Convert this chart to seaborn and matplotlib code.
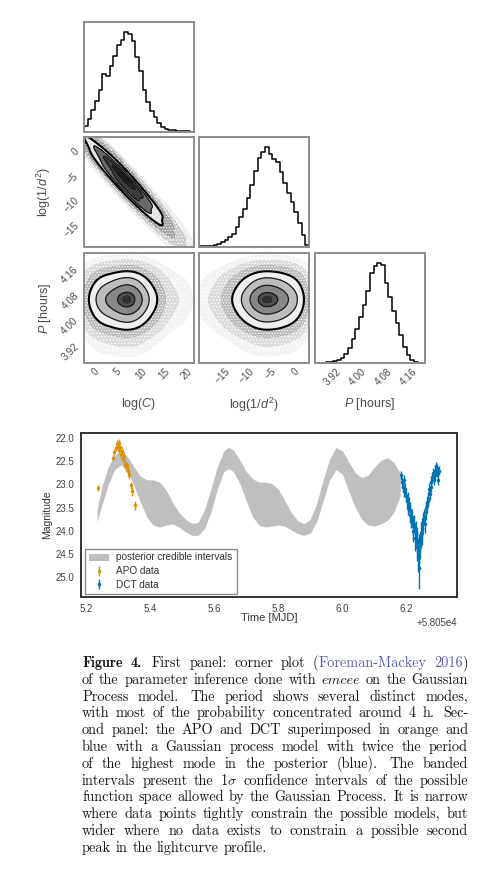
import numpy as np
import pandas as pd
import matplotlib
matplotlib.use("Agg")
import matplotlib.pyplot as plt
from matplotlib.transforms import IdentityTransform
import seaborn as sns

sns.set_style("white")
plt.rcParams["font.family"] = ["Liberation Sans", "DejaVu Sans"]
plt.rcParams["mathtext.fontset"] = "custom"
plt.rcParams["mathtext.rm"] = "Liberation Sans"
plt.rcParams["mathtext.it"] = "Liberation Sans:italic"
plt.rcParams["hatch.color"] = "#6e6e6e"
plt.rcParams["hatch.linewidth"] = 0.6

# ---------------------------------------------------------------- data
# corner plot: parameter ranges, ticks, labels
logc_range = [-2.4, 21.6]
logd_range = [-19.7, 2.8]
per_range = [3.865, 4.21]
logc_ticks = [0, 5, 10, 15, 20]
logd_ticks = [-15, -10, -5, 0]
per_ticks = [3.92, 4.00, 4.08, 4.16]
logc_label = r"log($C$)"
logd_label = r"log(1/$d^2$)"
per_label = r"$P$ [hours]"

# 1-D marginal histograms (relative heights, equal bins over the range)
hist_logc = [0.06, 0.13, 0.22, 0.31, 0.42, 0.57, 0.55, 0.65, 0.75, 0.86,
             0.91, 0.99, 0.97, 0.90, 0.74, 0.60, 0.42, 0.30, 0.21, 0.15,
             0.09, 0.05, 0.03, 0.02, 0.015, 0.012, 0.01, 0.007, 0.005, 0.002]
hist_logd = [0.007, 0.008, 0.012, 0.015, 0.02, 0.032, 0.05, 0.072, 0.10, 0.13,
             0.20, 0.30, 0.38, 0.49, 0.62, 0.76, 0.89, 0.95, 1.00, 0.93,
             0.88, 0.85, 0.75, 0.64, 0.54, 0.45, 0.35, 0.24, 0.12, 0.02]
hist_per = [0.0, 0.002, 0.004, 0.007, 0.012, 0.018, 0.026, 0.05, 0.09, 0.15,
            0.24, 0.34, 0.46, 0.58, 0.72, 0.90, 0.97, 1.00, 0.98, 0.80,
            0.66, 0.52, 0.40, 0.28, 0.16, 0.08, 0.035, 0.012, 0.005, 0.002]

# 2-D density log(C) vs log(1/d^2): rows from top (high log(1/d^2)) to bottom,
# columns from low to high log(C)
dens_c_d = [
    [10, 4, 0, 0, 0, 0, 0, 0, 0, 0, 0, 0],
    [4, 28, 6, 0, 0, 0, 0, 0, 0, 0, 0, 0],
    [0.1, 13, 49, 7, 0, 0, 0, 0, 0, 0, 0, 0],
    [0, 0.4, 27, 67, 7, 0, 0, 0, 0, 0, 0, 0],
    [0, 0, 1, 42, 81, 5, 0, 0, 0, 0, 0, 0],
    [0, 0, 0, 1.6, 57, 69, 2.2, 0, 0, 0, 0, 0],
    [0, 0, 0, 0, 2.4, 55, 33, 0.8, 0.1, 0, 0, 0],
    [0, 0, 0, 0, 0, 2.7, 31, 14, 1.5, 0, 0, 0],
    [0, 0, 0, 0, 0, 0, 1.7, 15, 5.7, 0.6, 0, 0],
    [0, 0, 0, 0, 0, 0, 0, 1.0, 6.2, 2.4, 0.3, 0],
    [0, 0, 0, 0, 0, 0, 0, 0, 2.0, 2.7, 1.1, 0.1],
    [0, 0, 0, 0, 0, 0, 0, 0, 0.2, 0.9, 1.4, 0.5],
]

# light curve (times in MJD - 58050)
mjd_base = 58050.0
band_t = [5.235, 5.25, 5.27, 5.29, 5.31, 5.33, 5.35, 5.37, 5.39, 5.41, 5.43,
          5.45, 5.47, 5.49, 5.51, 5.53, 5.55, 5.57, 5.59, 5.61, 5.63, 5.645,
          5.66, 5.68, 5.70, 5.72, 5.74, 5.76, 5.78, 5.80, 5.82, 5.84, 5.86,
          5.88, 5.90, 5.92, 5.94, 5.96, 5.98, 6.00, 6.02, 6.04, 6.06, 6.08,
          6.10, 6.12, 6.14, 6.16, 6.18]
band_bright = [23.55, 23.05, 22.62, 22.36, 22.28, 22.40, 22.62, 22.82, 22.90,
               22.90, 22.95, 23.12, 23.38, 23.60, 23.75, 23.84, 23.82, 23.55,
               23.10, 22.62, 22.28, 22.20, 22.26, 22.48, 22.72, 22.88, 22.95,
               22.95, 22.98, 23.10, 23.35, 23.60, 23.78, 23.85, 23.75, 23.40,
               22.90, 22.45, 22.20, 22.28, 22.52, 22.75, 22.85, 22.80, 22.62,
               22.48, 22.42, 22.52, 22.75]
band_faint = [23.80, 23.45, 23.00, 22.68, 22.58, 22.72, 23.02, 23.38, 23.70,
              23.88, 23.92, 23.88, 23.85, 23.92, 24.02, 24.10, 24.10, 23.95,
              23.60, 23.10, 22.72, 22.66, 22.72, 22.98, 23.35, 23.70, 23.88,
              23.92, 23.90, 23.88, 23.90, 23.98, 24.06, 24.10, 24.05, 23.80,
              23.35, 22.90, 22.68, 22.78, 23.15, 23.50, 23.75, 23.88, 23.90,
              23.85, 23.78, 23.60, 23.25]

apo_t = [5.239, 5.285, 5.289, 5.293, 5.296, 5.299, 5.302, 5.305, 5.308, 5.311,
         5.314, 5.317, 5.320, 5.323, 5.326, 5.329, 5.332, 5.336, 5.340, 5.344,
         5.352]
apo_mag = [23.08, 22.42, 22.30, 22.22, 22.12, 22.18, 22.10, 22.25, 22.20, 22.35,
           22.28, 22.45, 22.38, 22.55, 22.62, 22.58, 22.70, 22.80, 23.02, 23.15,
           23.45]
apo_err = [0.07, 0.06, 0.07, 0.06, 0.08, 0.06, 0.07, 0.07, 0.06, 0.07,
           0.08, 0.07, 0.07, 0.08, 0.08, 0.07, 0.08, 0.08, 0.08, 0.09, 0.10]

dct_t = [6.184, 6.186, 6.189, 6.191, 6.193, 6.196, 6.198, 6.200, 6.203, 6.205,
         6.207, 6.210, 6.212, 6.214, 6.217, 6.219, 6.221, 6.224, 6.226, 6.228,
         6.231, 6.233, 6.235, 6.238, 6.240, 6.242, 6.245, 6.247, 6.249, 6.252,
         6.254, 6.256, 6.259, 6.261, 6.263, 6.266, 6.268, 6.270, 6.273, 6.275,
         6.277, 6.280, 6.282, 6.284, 6.287, 6.289, 6.291, 6.294, 6.296, 6.298,
         6.301]
dct_mag = [22.80, 22.95, 23.05, 22.90, 23.15, 23.10, 23.25, 23.35, 23.30, 23.50,
           23.45, 23.65, 23.55, 23.75, 23.70, 23.90, 24.00, 23.85, 24.15, 24.05,
           24.35, 24.20, 24.55, 24.40, 24.80, 24.30, 24.10, 23.95, 24.05, 23.80,
           23.70, 23.85, 23.60, 23.50, 23.45, 23.30, 23.35, 23.10, 23.20, 22.95,
           23.05, 22.85, 22.75, 22.90, 22.70, 22.80, 22.60, 22.75, 22.65, 22.90,
           22.70]
dct_err = [0.10, 0.12, 0.12, 0.10, 0.13, 0.12, 0.14, 0.15, 0.14, 0.16,
           0.15, 0.18, 0.16, 0.20, 0.18, 0.22, 0.24, 0.20, 0.28, 0.25,
           0.30, 0.28, 0.35, 0.32, 0.45, 0.30, 0.28, 0.22, 0.25, 0.20,
           0.18, 0.20, 0.16, 0.15, 0.15, 0.13, 0.14, 0.12, 0.13, 0.11,
           0.12, 0.10, 0.10, 0.11, 0.10, 0.10, 0.09, 0.10, 0.10, 0.12, 0.10]
lc_xticks = [5.2, 5.4, 5.6, 5.8, 6.0, 6.2]
lc_yticks = [22.0, 22.5, 23.0, 23.5, 24.0, 24.5, 25.0]
legend_labels = ["posterior credible intervals", "APO data", "DCT data"]

caption_lines = [
    "*Figure *4. First panel: corner plot ({Foreman-Mackey 2016})",
    "of the parameter inference done with _emcee on the Gaussian",
    "Process model. The period shows several distinct modes,",
    "with most of the probability concentrated around 4 h. Sec-",
    "ond panel: the APO and DCT superimposed in orange and",
    "blue with a Gaussian process model with twice the period",
    "of the highest mode in the posterior (blue). The banded",
    r"intervals present the 1$\sigma$ confidence intervals of the possible",
    "function space allowed by the Gaussian Process. It is narrow",
    "where data points tightly constrain the possible models, but",
    "wider where no data exists to constrain a possible second",
    "peak in the lightcurve profile.",
]

# ---------------------------------------------------------------- figure
PX_W, PX_H = 500, 876
fig = plt.figure(figsize=(PX_W / 100, PX_H / 100), dpi=100)


def px_axes(left, top, w, h):
    return fig.add_axes([left / PX_W, 1 - (top + h) / PX_H, w / PX_W, h / PX_H])


def centers_of(rng, n):
    e = np.linspace(rng[0], rng[1], n + 1)
    return 0.5 * (e[1:] + e[:-1])


params = [
    dict(label=logc_label, rng=logc_range, ticks=logc_ticks, hist=hist_logc),
    dict(label=logd_label, rng=logd_range, ticks=logd_ticks, hist=hist_logd),
    dict(label=per_label, rng=per_range, ticks=per_ticks, hist=hist_per),
]

col_left = [84, 199, 315]
row_top = [22, 137, 253]
cell = 110

# outside the outer contour: speckled halo; inside: grey ramp
lev_halo = [0.002, 0.012, 0.045, 0.135]
hat_halo = ["....", ".....", "......"]
lev_core = [0.135, 0.325, 0.607, 0.882, 0.97, 1.0]
shade_sets = {
    "ridge": dict(halo=["#eeeeee", "#cbcbcb", "#9e9e9e"],
                  core=["#e6e6e6", "#6a6a6a", "#3c3c3c", "#282828", "#1c1c1c"]),
    "round": dict(halo=["#f3f3f3", "#dadada", "#b8b8b8"],
                  core=["#efefef", "#bdbdbd", "#878787", "#4e4e4e", "#303030"]),
}
lev_line = [0.135, 0.325, 0.607, 0.882]


def smooth_density(xs, ys, ws, xr, yr, bw, n=140):
    """Weighted Gaussian KDE (Scott bandwidth) evaluated on the panel grid."""
    m = ws > 0
    xs, ys, ws = xs[m], ys[m], ws[m] / ws[m].sum()
    neff = 1.0 / np.sum(ws ** 2)
    fac = neff ** (-1.0 / 6.0) * bw
    mx, my = np.sum(ws * xs), np.sum(ws * ys)
    cov = np.array([[np.sum(ws * (xs - mx) ** 2), np.sum(ws * (xs - mx) * (ys - my))],
                    [np.sum(ws * (xs - mx) * (ys - my)), np.sum(ws * (ys - my) ** 2)]])
    inv = np.linalg.inv(cov * fac ** 2)
    gx = np.linspace(xr[0], xr[1], n)
    gy = np.linspace(yr[0], yr[1], n)
    GX, GY = np.meshgrid(gx, gy)
    D = np.zeros_like(GX)
    for x0, y0, w0 in zip(xs, ys, ws):
        dx, dy = GX - x0, GY - y0
        q = inv[0, 0] * dx * dx + 2 * inv[0, 1] * dx * dy + inv[1, 1] * dy * dy
        D += w0 * np.exp(-0.5 * q)
    return GX, GY, D


def iso_levels(D, props):
    v = np.sort(D.ravel())[::-1]
    cum = np.cumsum(v) / v.sum()
    idx = np.searchsorted(cum, 1 - np.asarray(props))
    return np.take(v, idx, mode="clip")


def draw_2d(ax, xs, ys, ws, px, py, bw, shades):
    GX, GY, D = smooth_density(xs, ys, ws, px["rng"], py["rng"], bw)
    lh = iso_levels(D, lev_halo)
    ax.contourf(GX, GY, D, levels=lh, colors=shades["halo"], hatches=hat_halo)
    lc = iso_levels(D, lev_core)
    lc[-1] = D.max() * 1.001
    ax.contourf(GX, GY, D, levels=lc, colors=shades["core"])
    ll = iso_levels(D, lev_line)
    ax.contour(GX, GY, D, levels=ll, colors=["k", "#1a1a1a", "#1a1a1a", "#1a1a1a"],
               linewidths=[1.5, 0.9, 0.9, 0.9])


for i in range(3):
    for j in range(i + 1):
        ax = px_axes(col_left[j], row_top[i], cell, cell)
        px, py = params[j], params[i]
        if i == j:
            nb = len(px["hist"])
            dfh = pd.DataFrame({"v": centers_of(px["rng"], nb),
                                "w": px["hist"]})
            sns.histplot(data=dfh, x="v", weights="w", bins=nb,
                         binrange=tuple(px["rng"]), element="step",
                         fill=False, color="k", linewidth=1.1, ax=ax)
            ax.set_ylim(0, 1.1 * max(px["hist"]))
            ax.set_yticks([])
        else:
            if (i, j) == (1, 0):
                arr = np.array(dens_c_d, dtype=float)
                cx = centers_of(px["rng"], arr.shape[1])
                cy = centers_of(py["rng"], arr.shape[0])
                X, Y = np.meshgrid(cx, cy[::-1])
                draw_2d(ax, X.ravel(), Y.ravel(), arr.ravel(), px, py, 1.1,
                        shade_sets["ridge"])
            else:
                cx = centers_of(px["rng"], len(px["hist"]))
                cy = centers_of(py["rng"], len(py["hist"]))
                X, Y = np.meshgrid(cx, cy)
                W = np.outer(py["hist"], px["hist"])
                draw_2d(ax, X.ravel(), Y.ravel(), W.ravel(), px, py, 0.75,
                        shade_sets["round"])
            ax.set_ylim(py["rng"])
            ax.set_yticks(py["ticks"])
        ax.set_xlim(px["rng"])
        ax.set_xticks(px["ticks"])
        ax.set_xlabel("")
        ax.set_ylabel("")
        for s in ax.spines.values():
            s.set_color("#8c8c8c")
            s.set_linewidth(1.4)
        ax.tick_params(length=0, labelsize=7.2, labelcolor="#4d4d4d", pad=2.5)
        if i < 2:
            ax.set_xticklabels([])
        else:
            for lab in ax.get_xticklabels():
                lab.set_rotation(45)
            ax.set_xlabel(px["label"], fontsize=9, color="#4d4d4d")
            ax.xaxis.set_label_coords(0.5, -0.30)
        if j > 0 or i == 0:
            ax.set_yticklabels([])
        else:
            for lab in ax.get_yticklabels():
                lab.set_rotation(45)
            ax.set_ylabel(py["label"], fontsize=9, color="#4d4d4d")
            ax.yaxis.set_label_coords(-0.28, 0.5)

# ---------------------------------------------------------------- light curve
cb = sns.color_palette("colorblind")
orange, blue = cb[1], cb[0]
axl = px_axes(81, 433, 376, 164)
tb = mjd_base + np.array(band_t)
axl.fill_between(tb, band_bright, band_faint, color="#bfbfbf", lw=0,
                 label=legend_labels[0])
axl.errorbar(mjd_base + np.array(apo_t), apo_mag, yerr=apo_err, fmt=".",
             color=orange, ms=3, elinewidth=1, capsize=0, label=legend_labels[1])
axl.errorbar(mjd_base + np.array(dct_t), dct_mag, yerr=dct_err, fmt=".",
             color=blue, ms=3, elinewidth=1, capsize=0, label=legend_labels[2])
axl.set_xlim(mjd_base + 5.185, mjd_base + 6.357)
axl.set_ylim(25.43, 21.89)
axl.set_xticks(mjd_base + np.array(lc_xticks))
axl.set_yticks(lc_yticks)
for s in axl.spines.values():
    s.set_color("#333333")
    s.set_linewidth(1.4)
axl.tick_params(length=0, labelsize=7, labelcolor="#404040", pad=5)
axl.xaxis.get_offset_text().set_fontsize(7)
axl.xaxis.get_offset_text().set_color("#404040")
axl.set_ylabel("Magnitude", fontsize=7.5, color="#333333")
axl.set_xlabel("Time [MJD]", fontsize=8, color="#333333")
axl.yaxis.set_label_coords(-0.077, 0.5)
axl.xaxis.set_label_coords(0.5, -0.095)
leg = axl.legend(loc="lower left", fontsize=7.2, frameon=True, fancybox=False,
                 edgecolor="#8c8c8c", framealpha=1, borderaxespad=0.35,
                 labelspacing=0.35)
leg.get_frame().set_linewidth(1.0)
for t in leg.get_texts():
    t.set_color("#333333")

# ---------------------------------------------------------------- caption
cap_x0, cap_x1 = 82.0, 468.0
cap_base0, cap_lead = 667.0, 16.8
ink = "#161616"
cap_styles = {
    "n": dict(family=["cmr10", "DejaVu Serif"], color=ink),
    "b": dict(family=["cmb10", "DejaVu Serif"], color=ink),
    "i": dict(family=["cmmi10", "DejaVu Serif"], color=ink),
    "l": dict(family=["cmr10", "DejaVu Serif"], color="#5a5ab0"),
}


def parse_line(line, link):
    words = []
    for raw in line.split():
        style = "n"
        if raw.startswith("*"):
            style, raw = "b", raw[1:]
        elif raw.startswith("_"):
            style, raw = "i", raw[1:]
        segs, buf = [], ""
        for ch in raw:
            if ch in "{}":
                if buf:
                    segs.append((buf, "l" if link else style))
                    buf = ""
                link = ch == "{"
            else:
                buf += ch
        if buf:
            segs.append((buf, "l" if link else style))
        words.append(segs)
    return words, link


cap_objs, cap_words = [], []
link = False
for line in caption_lines:
    words, link = parse_line(line, link)
    lo = []
    for segs in words:
        lo.append([fig.text(0, 0, s, transform=IdentityTransform(), fontsize=10,
                            ha="left", va="baseline", math_fontfamily="cm",
                            **cap_styles[st]) for s, st in segs])
    cap_objs.append(lo)
    cap_words.append(["".join(s for s, _ in segs) for segs in words])

renderer = fig.canvas.get_renderer()


def seg_w(t):
    return t.get_window_extent(renderer).width


def space_w(fs):
    return fs * 100 / 72 * 0.333


cap_w = cap_x1 - cap_x0
nat = []
for lo in cap_objs[:-1]:
    nat.append(sum(seg_w(t) for w in lo for t in w) + space_w(10) * (len(lo) - 1))
fs = float(np.clip(10 * cap_w * 0.985 / max(nat), 8.5, 11.5))
for lo in cap_objs:
    for w in lo:
        for t in w:
            t.set_fontsize(fs)

for k, lo in enumerate(cap_objs):
    y = PX_H - (cap_base0 + k * cap_lead)
    wws = [[seg_w(t) for t in w] for w in lo]
    tot = [sum(w) for w in wws]
    n = len(lo)
    wts = [1.35 if cap_words[k][q].endswith(".") else 1.0 for q in range(n - 1)]
    if k < len(cap_objs) - 1 and n > 1:
        unit = (cap_w - sum(tot)) / sum(wts)
    else:
        unit = space_w(fs)
        wts = [1.0] * (n - 1)
    x = cap_x0
    for q, w in enumerate(lo):
        xx = x
        for t, sw in zip(w, wws[q]):
            t.set_position((xx, y))
            xx += sw
        x += tot[q] + (unit * wts[q] if q < n - 1 else 0)

fig.savefig("out.png", dpi=100, facecolor="white")
